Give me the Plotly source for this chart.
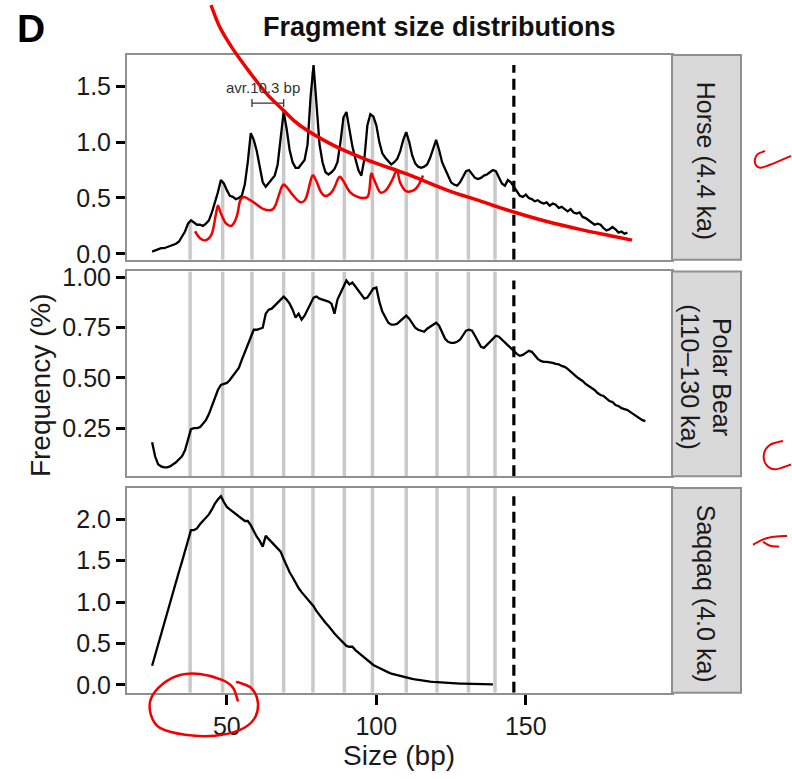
import plotly.graph_objects as go
import numpy as np

W, H = 792, 779
FONT = "Liberation Sans, Arial, Helvetica, sans-serif"

# ---------------- data ----------------
panel_names = ["Horse (4.4 ka)", "Polar Bear<br>(110\u2013130 ka)", "Saqqaq (4.0 ka)"]

# ~10.3 bp periodicity positions (grey lines)
peak_positions = [37.7, 48.6, 58.4, 69.0, 78.8, 89.3, 98.7, 110.0, 120.3, 130.8, 139.7]
nucleosome_bp = 146
avr_label = "avr.10.3 bp"
avr_bar = [58.4, 69.0]
avr_bar_y = 1.35
avr_label_pos = [62.1, 1.49]

horse_size = list(range(25, 185))
horse_freq = [
    0.02, 0.03, 0.04, 0.05, 0.05, 0.06, 0.07, 0.08, 0.09, 0.11,
    0.15, 0.20, 0.27, 0.30, 0.28, 0.26, 0.26, 0.25, 0.27, 0.30,
    0.37, 0.45, 0.55, 0.66, 0.63, 0.57, 0.52, 0.51, 0.49, 0.50,
    0.52, 0.62, 0.82, 1.08, 1.02, 0.92, 0.78, 0.64, 0.60, 0.63,
    0.66, 0.70, 0.80, 1.05, 1.27, 1.12, 0.93, 0.82, 0.77, 0.77,
    0.80, 0.84, 0.98, 1.40, 1.69, 1.30, 0.98, 0.82, 0.73, 0.71,
    0.73, 0.76, 0.82, 1.00, 1.22, 1.27, 1.12, 0.96, 0.85, 0.75,
    0.70, 0.85, 1.15, 1.25, 1.23, 1.15, 1.00, 0.90, 0.86, 0.83,
    0.80, 0.82, 0.85, 0.92, 1.02, 1.09, 1.00, 0.88, 0.81, 0.78,
    0.77, 0.78, 0.80, 0.86, 0.95, 1.02, 0.93, 0.82, 0.76, 0.70,
    0.64, 0.62, 0.61, 0.64, 0.69, 0.74, 0.75, 0.71, 0.68, 0.67,
    0.68, 0.70, 0.71, 0.73, 0.75, 0.74, 0.68, 0.63, 0.61, 0.66,
    0.64, 0.60, 0.55, 0.52, 0.51, 0.53, 0.50, 0.49, 0.47, 0.48,
    0.46, 0.45, 0.46, 0.43, 0.45, 0.44, 0.41, 0.42, 0.40, 0.38,
    0.40, 0.37, 0.36, 0.37, 0.33, 0.32, 0.30, 0.28, 0.26, 0.27,
    0.26, 0.23, 0.21, 0.22, 0.24, 0.22, 0.19, 0.20, 0.18, 0.19,
]

polar_size = list(range(25, 191))
polar_freq = [
    0.18, 0.11, 0.07, 0.06, 0.055, 0.055, 0.06, 0.07, 0.08, 0.095,
    0.11, 0.14, 0.20, 0.245, 0.25, 0.25, 0.255, 0.27, 0.29, 0.32,
    0.36, 0.40, 0.44, 0.465, 0.47, 0.475, 0.49, 0.51, 0.53, 0.55,
    0.59, 0.63, 0.67, 0.71, 0.74, 0.74, 0.745, 0.75, 0.82, 0.84,
    0.845, 0.86, 0.875, 0.89, 0.905, 0.89, 0.87, 0.84, 0.80, 0.82,
    0.79, 0.81, 0.84, 0.87, 0.90, 0.905, 0.895, 0.89, 0.885, 0.88,
    0.87, 0.82, 0.89, 0.92, 0.95, 0.985, 0.965, 0.975, 0.955, 0.935,
    0.915, 0.895, 0.90, 0.92, 0.945, 0.95, 0.88, 0.83, 0.80, 0.775,
    0.765, 0.765, 0.77, 0.785, 0.80, 0.81, 0.795, 0.77, 0.75, 0.74,
    0.735, 0.73, 0.745, 0.755, 0.765, 0.775, 0.76, 0.73, 0.695, 0.68,
    0.675, 0.675, 0.68, 0.69, 0.71, 0.735, 0.74, 0.735, 0.71, 0.68,
    0.655, 0.65, 0.665, 0.685, 0.70, 0.71, 0.705, 0.69, 0.675, 0.665,
    0.65, 0.635, 0.62, 0.61, 0.615, 0.625, 0.635, 0.63, 0.61, 0.595,
    0.585, 0.58, 0.58, 0.578, 0.575, 0.57, 0.568, 0.56, 0.555, 0.545,
    0.53, 0.52, 0.505, 0.495, 0.485, 0.47, 0.46, 0.45, 0.44, 0.425,
    0.415, 0.41, 0.395, 0.385, 0.38, 0.365, 0.36, 0.35, 0.345, 0.34,
    0.33, 0.32, 0.31, 0.30, 0.29, 0.285,
]

saqqaq_size = list(range(25, 140))
saqqaq_freq = [
    0.23, 0.36, 0.49, 0.61, 0.74, 0.86, 0.99, 1.12, 1.24, 1.37,
    1.49, 1.62, 1.74, 1.87, 1.87, 1.89, 1.94, 1.98, 2.02, 2.06,
    2.12, 2.19, 2.24, 2.28, 2.21, 2.15, 2.12, 2.09, 2.06, 2.03,
    2.00, 1.98, 1.98, 1.93, 1.86, 1.79, 1.74, 1.67, 1.80, 1.76,
    1.72, 1.69, 1.65, 1.61, 1.52, 1.43, 1.36, 1.30, 1.23, 1.17,
    1.12, 1.08, 1.04, 1.00, 0.95, 0.89, 0.84, 0.80, 0.75, 0.71,
    0.66, 0.62, 0.58, 0.54, 0.50, 0.47, 0.46, 0.46, 0.42, 0.39,
    0.35, 0.32, 0.29, 0.27, 0.24, 0.22, 0.20, 0.185, 0.17, 0.15,
    0.135, 0.125, 0.115, 0.105, 0.095, 0.085, 0.078, 0.072, 0.065, 0.058,
    0.052, 0.047, 0.042, 0.038, 0.034, 0.031, 0.028, 0.025, 0.023, 0.021,
    0.019, 0.017, 0.015, 0.014, 0.013, 0.012, 0.011, 0.010, 0.009, 0.008,
    0.007, 0.007, 0.006, 0.006, 0.005,
]

series = [(horse_size, horse_freq), (polar_size, polar_freq), (saqqaq_size, saqqaq_freq)]
y_ranges = [[-0.053, 1.78], [0.011, 1.03], [-0.095, 2.38]]
y_ticks = [[0.0, 0.5, 1.0, 1.5], [0.25, 0.5, 0.75, 1.0], [0.0, 0.5, 1.0, 1.5, 2.0]]
y_fmt = [".1f", ".2f", ".1f"]
x_range = [16.6, 198.9]
x_ticks = [50, 100, 150]

# ---------------- layout geometry (pixels) ----------------
PX_L, PX_R, STRIP_R = 127, 672, 741
panel_px = [(48, 257), (269, 478), (490, 699)]

def pxx(x):
    return x / W

def pxy(y):
    return 1 - y / H

fig = go.Figure()
layout = dict(
    width=W, height=H, margin=dict(l=0, r=0, t=0, b=0),
    paper_bgcolor="white", plot_bgcolor="white", showlegend=False,
    font=dict(family=FONT, color="#1a1a1a"),
)
shapes, annotations = [], []

GREY = "#c9c9c9"
FRAME = "#8f8f8f"

for i, ((xs, ys), yr) in enumerate(zip(series, y_ranges)):
    k = "" if i == 0 else str(i + 1)
    xa, ya = "x" + k, "y" + k
    top, bot = panel_px[i]
    layout["xaxis" + k] = dict(
        domain=[pxx(PX_L), pxx(PX_R)], range=x_range, anchor=ya,
        showgrid=False, zeroline=False, showline=True, mirror=True,
        linecolor=FRAME, linewidth=2,
        ticks="outside" if i == 2 else "", tickvals=x_ticks if i == 2 else [],
        showticklabels=(i == 2), ticklen=10, tickwidth=3, tickcolor="black",
        tickfont=dict(size=25, color="#1a1a1a", family=FONT),
    )
    layout["yaxis" + k] = dict(
        domain=[pxy(bot), pxy(top)], range=yr, anchor=xa,
        showgrid=False, zeroline=False, showline=True, mirror=True,
        linecolor=FRAME, linewidth=2,
        ticks="outside", tickvals=y_ticks[i], tickformat=y_fmt[i],
        ticklen=9, tickwidth=3, tickcolor="black",
        tickfont=dict(size=25, color="#1a1a1a", family=FONT),
    )
    # grey periodicity lines
    gx, gy = [], []
    for p in peak_positions:
        if i == 0:
            ytop = float(np.interp(p, xs, ys))
        else:
            ytop = yr[1]
        gx += [p, p, None]
        gy += [yr[0], ytop, None]
    fig.add_trace(go.Scatter(x=gx, y=gy, mode="lines", xaxis=xa, yaxis=ya,
                             line=dict(color=GREY, width=3.5), hoverinfo="skip"))
    # nucleosome dashed line
    fig.add_trace(go.Scatter(x=[nucleosome_bp, nucleosome_bp], y=[yr[0], max(ys)],
                             mode="lines", xaxis=xa, yaxis=ya,
                             line=dict(color="black", width=3.2, dash="11px,6px"),
                             hoverinfo="skip"))
    # data
    fig.add_trace(go.Scatter(x=xs, y=ys, mode="lines", xaxis=xa, yaxis=ya,
                             line=dict(color="black", width=2.3)))
    # strip
    shapes.append(dict(type="rect", xref="paper", yref="paper",
                       x0=pxx(PX_R), x1=pxx(STRIP_R), y0=pxy(bot), y1=pxy(top),
                       fillcolor="#d9d9d9", line=dict(color=FRAME, width=2), layer="above"))
    annotations.append(dict(text=panel_names[i], xref="paper", yref="paper",
                            x=pxx((PX_R + STRIP_R) / 2 - 1), y=pxy((top + bot) / 2 + 3),
                            showarrow=False, textangle=90, xanchor="center", yanchor="middle",
                            font=dict(size=25, color="#1a1a1a", family=FONT)))

# avr. period bar in horse panel
cap = 0.035
fig.add_trace(go.Scatter(
    x=[avr_bar[0], avr_bar[1], None, avr_bar[0], avr_bar[0], None, avr_bar[1], avr_bar[1]],
    y=[avr_bar_y, avr_bar_y, None, avr_bar_y - cap, avr_bar_y + cap, None, avr_bar_y - cap, avr_bar_y + cap],
    mode="lines", xaxis="x", yaxis="y", line=dict(color="#333333", width=1.3), hoverinfo="skip"))
annotations.append(dict(text=avr_label, x=avr_label_pos[0], y=avr_label_pos[1], xref="x", yref="y",
                        showarrow=False, font=dict(size=15, color="#333333", family=FONT)))

# titles
annotations += [
    dict(text="<b>D</b>", xref="paper", yref="paper", x=pxx(31), y=pxy(21), showarrow=False,
         xanchor="center", yanchor="middle", font=dict(size=39, color="black", family=FONT)),
    dict(text="<b>Fragment size distributions</b>", xref="paper", yref="paper", x=pxx(439), y=pxy(19),
         showarrow=False, xanchor="center", yanchor="middle", font=dict(size=27, color="#111111", family=FONT)),
    dict(text="Frequency (%)", xref="paper", yref="paper", x=pxx(40), y=pxy(385), showarrow=False,
         textangle=-90, xanchor="center", yanchor="middle", font=dict(size=28, color="#1a1a1a", family=FONT)),
    dict(text="Size (bp)", xref="paper", yref="paper", x=pxx(399), y=pxy(763), showarrow=False,
         xanchor="center", yanchor="middle", font=dict(size=28, color="#1a1a1a", family=FONT)),
]

# ---------------- red hand-drawn markup (pixel coords) ----------------
def smooth_path(pts):
    P = [(x / W, 1 - y / H) for x, y in pts]
    d = "M%.5f,%.5f" % P[0]
    for j in range(len(P) - 1):
        p0 = P[j - 1] if j > 0 else P[j]
        p1, p2 = P[j], P[j + 1]
        p3 = P[j + 2] if j + 2 < len(P) else P[j + 1]
        c1 = (p1[0] + (p2[0] - p0[0]) / 6, p1[1] + (p2[1] - p0[1]) / 6)
        c2 = (p2[0] - (p3[0] - p1[0]) / 6, p2[1] - (p3[1] - p1[1]) / 6)
        d += " C%.5f,%.5f %.5f,%.5f %.5f,%.5f" % (c1 + c2 + p2)
    return d

red_strokes = [
    ([(211, -3), (220, 20), (233, 42), (250, 66), (267, 88), (283, 104), (300, 120), (333, 140),
      (367, 155), (400, 167), (413, 172), (447, 186), (480, 197), (513, 208), (547, 218),
      (580, 226), (613, 233), (632, 237)], 3.5),
    ([(195, 228), (200, 235), (206, 237), (212, 230), (216, 210), (218, 202), (221, 210), (226, 220),
      (232, 222), (237, 212), (240, 197), (244, 193), (253, 198), (263, 205), (272, 206), (276, 200),
      (282, 182), (286, 182), (292, 190), (300, 198), (306, 194), (312, 172), (316, 176), (321, 188),
      (326, 192), (333, 186), (339, 173), (343, 176), (350, 188), (358, 193), (368, 192), (371, 170),
      (374, 175), (380, 188), (386, 186), (392, 176), (397, 166), (400, 178), (406, 187), (414, 186),
      (419, 180), (423, 171)], 2.5),
    ([(765, 146), (757, 150), (755, 158), (760, 163), (770, 160), (791, 151)], 2),
    ([(783, 442), (770, 446), (764, 455), (766, 466), (775, 471), (791, 466)], 2),
    ([(753, 548), (762, 543), (772, 540), (787, 539)], 2),
    ([(763, 545), (770, 549), (779, 550)], 2),
    ([(238, 708), (233, 694), (222, 686), (200, 680), (180, 681), (163, 690), (151, 705), (151, 722),
      (160, 735), (185, 742), (215, 743), (240, 737), (254, 726), (258, 710), (252, 695), (240, 689),
      (236, 688)], 2.5),
]
for pts, wdt in red_strokes:
    shapes.append(dict(type="path", xref="paper", yref="paper", path=smooth_path(pts),
                       line=dict(color="#f20000", width=wdt), layer="above"))

layout["shapes"] = shapes
layout["annotations"] = annotations
fig.update_layout(**layout)
fig.write_html("out.html")
